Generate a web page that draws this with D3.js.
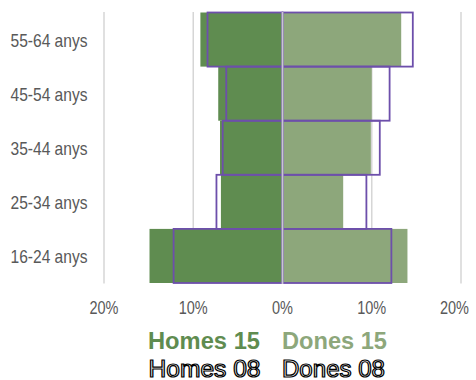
<!DOCTYPE html>
<html>
<head>
<meta charset="utf-8">
<script src="https://cdn.jsdelivr.net/npm/d3@7"></script>
<style>
  html, body { margin: 0; padding: 0; background: #fff; }
  svg { display: block; font-family: "Liberation Sans", Arial, sans-serif; }
</style>
</head>
<body>
<svg id="chart" width="476" height="380"></svg>
<script>
// Age groups, top to bottom
const ageGroups = ["55-64 anys", "45-54 anys", "35-44 anys", "25-34 anys", "16-24 anys"];
// Share of population (%) per age group
const homes15 = [9.2, 7.2, 7.0, 6.9, 14.9];
const dones15 = [13.3, 10.0, 9.9, 6.8, 14.0];
const homes08 = [8.4, 6.3, 6.7, 7.4, 12.2];
const dones08 = [14.6, 12.0, 10.9, 9.4, 12.2];
// Axis ticks
const tickValues = [-20, -10, 0, 10, 20];
const tickLabels = ["20%", "10%", "0%", "10%", "20%"];

const colors = {
  homes15: "#5f8c50",
  dones15: "#8da77b",
  outline: "#6d4fab",
  grid: "#d6d6d6",
  center: "#c9c4d4",
  label: "#595959"
};

const W = 476;
const svg = d3.select("#chart");

const x = d3.scaleLinear().domain([-20, 20]).range([104, 461]);
const y = d3.scaleBand().domain(ageGroups).range([12.5, 283]).padding(0);

// Vertical gridlines (behind the bars)
svg.append("g")
  .selectAll("line")
  .data(tickValues.filter(v => v !== 0))
  .join("line")
  .attr("x1", d => x(d)).attr("x2", d => x(d))
  .attr("y1", 12).attr("y2", 283.5)
  .attr("stroke", colors.grid)
  .attr("stroke-width", 1.5);

const rows = ageGroups.map((g, i) => ({
  group: g, h15: homes15[i], d15: dones15[i], h08: homes08[i], d08: dones08[i]
}));

// 2015 filled bars
svg.append("g").selectAll("rect")
  .data(rows).join("rect")
  .attr("x", d => x(-d.h15))
  .attr("y", d => y(d.group))
  .attr("width", d => x(0) - x(-d.h15))
  .attr("height", y.bandwidth())
  .attr("fill", colors.homes15);

svg.append("g").selectAll("rect")
  .data(rows).join("rect")
  .attr("x", x(0))
  .attr("y", d => y(d.group))
  .attr("width", d => x(d.d15) - x(0))
  .attr("height", y.bandwidth())
  .attr("fill", colors.dones15);

// 2008 outlined bars
svg.append("g").selectAll("rect")
  .data(rows).join("rect")
  .attr("x", d => x(-d.h08))
  .attr("y", d => y(d.group))
  .attr("width", d => x(0) - x(-d.h08))
  .attr("height", y.bandwidth())
  .attr("fill", "none")
  .attr("stroke", colors.outline)
  .attr("stroke-width", 1.8);

svg.append("g").selectAll("rect")
  .data(rows).join("rect")
  .attr("x", x(0))
  .attr("y", d => y(d.group))
  .attr("width", d => x(d.d08) - x(0))
  .attr("height", y.bandwidth())
  .attr("fill", "none")
  .attr("stroke", colors.outline)
  .attr("stroke-width", 1.8);

// Zero line on top
svg.append("line")
  .attr("x1", x(0)).attr("x2", x(0))
  .attr("y1", 12).attr("y2", 284)
  .attr("stroke", colors.center)
  .attr("stroke-width", 1.8);

// Category labels
svg.append("g").selectAll("text")
  .data(ageGroups).join("text")
  .attr("x", 87.5)
  .attr("y", d => y(d) + y.bandwidth() / 2 + 7.5)
  .attr("text-anchor", "end")
  .attr("font-size", 19)
  .attr("fill", colors.label)
  .attr("textLength", 77)
  .attr("lengthAdjust", "spacingAndGlyphs")
  .text(d => d);

// X axis tick labels (kept inside the canvas at the right edge)
const tickW = (i) => tickLabels[i].length === 3 ? 29 : 21;
svg.append("g").selectAll("text")
  .data(tickValues).join("text")
  .attr("x", (d, i) => Math.min(x(d), W - 7 - tickW(i) / 2))
  .attr("y", 313.5)
  .attr("text-anchor", "middle")
  .attr("font-size", 17.5)
  .attr("fill", colors.label)
  .attr("textLength", (d, i) => tickW(i))
  .attr("lengthAdjust", "spacingAndGlyphs")
  .text((d, i) => tickLabels[i]);

// Legend
const legend = [
  { text: "Homes 15", x: 148, y: 348.5, fill: colors.homes15, bold: true, w: 112 },
  { text: "Dones 15", x: 282, y: 348.5, fill: colors.dones15, bold: true, w: 105 },
  { text: "Homes 08", x: 148.5, y: 376.5, fill: "#ffffff", bold: false, w: 112 },
  { text: "Dones 08", x: 282, y: 376.5, fill: "#ffffff", bold: false, w: 103 }
];

svg.append("g").selectAll("text")
  .data(legend).join("text")
  .attr("x", d => d.x)
  .attr("y", d => d.y)
  .attr("font-size", 23)
  .attr("font-weight", d => d.bold ? "bold" : "normal")
  .attr("fill", d => d.fill)
  .attr("stroke", d => d.bold ? "none" : "#000")
  .attr("stroke-width", 1.2)
  .attr("textLength", d => d.w)
  .attr("lengthAdjust", "spacingAndGlyphs")
  .text(d => d.text);
</script>
</body>
</html>
